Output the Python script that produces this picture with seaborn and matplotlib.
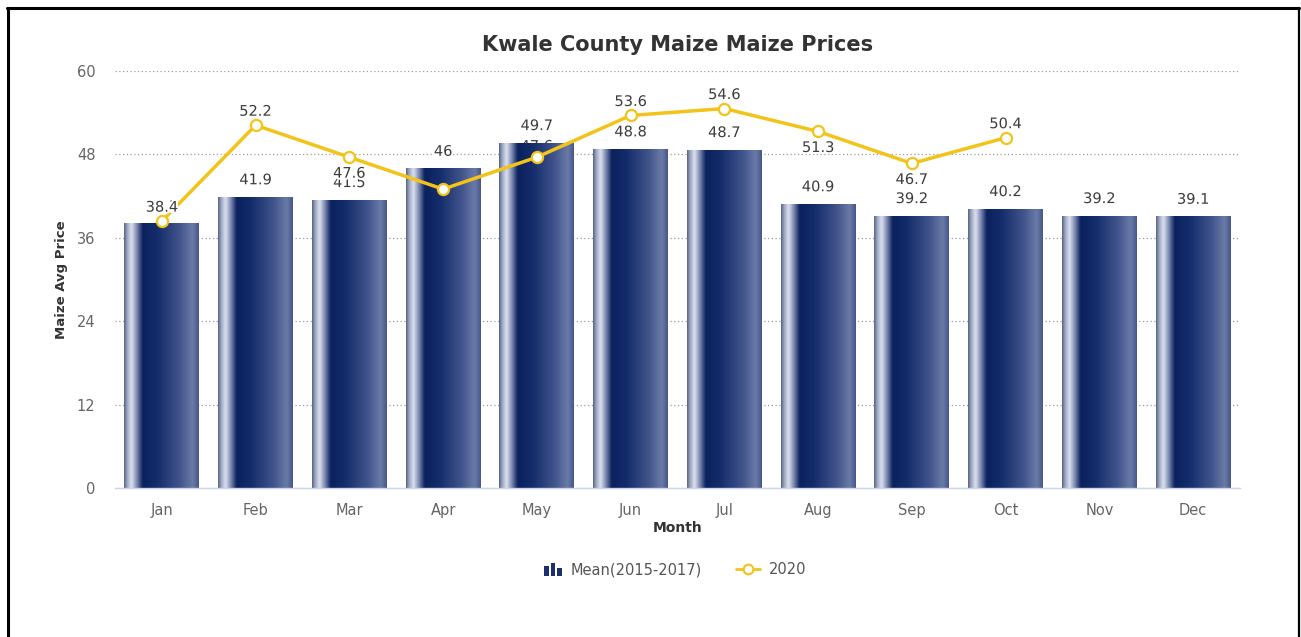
import numpy as np
import pandas as pd
import seaborn as sns
import matplotlib.pyplot as plt
import matplotlib.patheffects as pe
from matplotlib.colors import LinearSegmentedColormap
from matplotlib.legend_handler import HandlerBase
from matplotlib.patches import Rectangle
from matplotlib.lines import Line2D

# ---- data -------------------------------------------------------------
months = ["Jan", "Feb", "Mar", "Apr", "May", "Jun",
          "Jul", "Aug", "Sep", "Oct", "Nov", "Dec"]
mean_2015_2017 = [38.1, 41.9, 41.5, 46.0, 49.7, 48.8,
                  48.7, 40.9, 39.2, 40.2, 39.2, 39.1]
price_2020 = [38.4, 52.2, 47.6, 43.0, 47.6, 53.6, 54.6, 51.3, 46.7, 50.4]
y_ticks = [0, 12, 24, 36, 48, 60]

# where each 2020 value label sits relative to its point (None = hidden)
label_side_2020 = ["above", "above", "below", None, "under_bar",
                   "above", "above", "below", "below", "above"]

# ---- style ------------------------------------------------------------
sns.set_theme(style="white")
plt.rcParams["font.family"] = ["DejaVu Sans"]

NAVY = "#0d2463"
GOLD = "#f2c318"
TEXT = "#333333"
TICK = "#666666"

W, H = 1301, 637
fig = plt.figure(figsize=(W / 100, H / 100), dpi=100)
ax = fig.add_axes([115 / W, 1 - 488 / H, 1125 / W, 417 / H])

df = pd.DataFrame({"Month": months, "Price": mean_2015_2017})
sns.barplot(data=df, x="Month", y="Price", order=months, color=NAVY,
            saturation=1, width=0.8, ax=ax, zorder=2)

# cylinder-like horizontal gradient on every bar
grad_cmap = LinearSegmentedColormap.from_list("bar_shade", [
    (0.00, "#56627f"),
    (0.04, "#9aa5c2"),
    (0.10, "#dde2ef"),
    (0.17, "#7d8ab2"),
    (0.25, "#0a215d"),
    (0.45, "#142d6b"),
    (0.75, "#42558c"),
    (0.92, "#6b7ba8"),
    (1.00, "#46568a"),
])
grad = np.linspace(0, 1, 256).reshape(1, -1)
for bar in list(ax.patches):
    x0, y0 = bar.get_xy()
    w, h = bar.get_width(), bar.get_height()
    img = ax.imshow(grad, extent=[x0, x0 + w, y0, y0 + h], aspect="auto",
                    cmap=grad_cmap, origin="lower", interpolation="bicubic",
                    zorder=2)
    img.set_clip_path(bar)
    bar.set_facecolor("none")
    bar.set_edgecolor("none")

# 2020 line
pos_2020 = np.arange(len(price_2020))
sns.lineplot(x=pos_2020, y=price_2020, ax=ax, color=GOLD, linewidth=2.5,
             marker="o", markersize=8, markerfacecolor="white",
             markeredgecolor=GOLD, markeredgewidth=1.6, zorder=4)

ax.set_xlim(-0.5, len(months) - 0.5)
ax.set_ylim(0, 60)
ax.set_yticks(y_ticks)
ax.set_xticks(range(len(months)))
ax.set_xticklabels(months)

# value labels
halo = [pe.withStroke(linewidth=3, foreground="white")]
lab_kw = dict(textcoords="offset pixels", ha="center", va="center",
              fontsize=10.5, color="#3c3c3c", path_effects=halo)
for i, v in enumerate(mean_2015_2017):
    ax.annotate(f"{v:g}", (i, v), xytext=(0, 17), zorder=5, **lab_kw)
for i, (v, side) in enumerate(zip(price_2020, label_side_2020)):
    if side is None:
        continue
    dy = {"above": 14, "below": -16, "under_bar": 11}[side]
    z = 1.5 if side == "under_bar" else 5
    ax.annotate(f"{v:g}", (i, v), xytext=(0, dy), zorder=z, **lab_kw)

# axes styling
for s in ["top", "right", "left"]:
    ax.spines[s].set_visible(False)
ax.spines["bottom"].set_color("#ccd6eb")
ax.spines["bottom"].set_linewidth(1)
ax.grid(axis="y", color="#9a9a9a", linestyle=(0, (1, 2)), linewidth=0.9,
        zorder=0)
ax.grid(axis="x", visible=False)
ax.set_axisbelow(True)
ax.tick_params(axis="x", length=0, pad=11, labelsize=10.5, labelcolor=TICK)
ax.tick_params(axis="y", length=0, pad=14, labelsize=10.5, labelcolor=TICK)
ax.set_xlabel("")
ax.set_ylabel("")

fig.text(677.5 / W, 1 - 45 / H, "Kwale County Maize Maize Prices",
         ha="center", va="center", fontsize=15, fontweight="bold",
         color=TEXT)
fig.text(62 / W, 1 - 280 / H, "Maize Avg Price", rotation=90,
         ha="center", va="center", fontsize=9.5, fontweight="bold",
         color=TEXT)
fig.text(677.5 / W, 1 - 528 / H, "Month", ha="center", va="center",
         fontsize=10, fontweight="bold", color=TEXT)


# legend with a small column-chart icon for the bar series
class ColumnIcon(HandlerBase):
    def create_artists(self, legend, orig_handle, xdescent, ydescent,
                       width, height, fontsize, trans):
        bw = width * 0.2
        heights = [0.75, 1.0, 0.55]
        arts = []
        for k, hh in enumerate(heights):
            x = width * 0.25 + k * bw * 1.45 - xdescent
            r = Rectangle((x, -ydescent - 1), bw, height * 1.15 * hh + 1,
                          facecolor="#1b2f6e", edgecolor="none",
                          transform=trans)
            arts.append(r)
        return arts


bar_handle = Rectangle((0, 0), 1, 1, color="#1b2f6e")
line_handle = Line2D([], [], color=GOLD, linewidth=2, marker="o",
                     markersize=7, markerfacecolor="white",
                     markeredgecolor=GOLD, markeredgewidth=1.5)
leg = fig.legend([bar_handle, line_handle], ["Mean(2015-2017)", "2020"],
                 handler_map={Rectangle: ColumnIcon()},
                 loc="center", bbox_to_anchor=(672 / W, 1 - 570 / H),
                 ncol=2, frameon=False, fontsize=10.5, handlelength=1.6,
                 columnspacing=2.4, handletextpad=0.6)
for t in leg.get_texts():
    t.set_color("#555555")

# outer frame (left, top, right edges)
fig.add_artist(Line2D([7.5 / W, 7.5 / W], [0, 1 - 8 / H], color="black",
                      linewidth=2.2, transform=fig.transFigure))
fig.add_artist(Line2D([6.5 / W, 1298.5 / W], [1 - 8 / H, 1 - 8 / H],
                      color="black", linewidth=2.2,
                      transform=fig.transFigure))
fig.add_artist(Line2D([1298.5 / W, 1298.5 / W], [0, 1 - 8 / H],
                      color="black", linewidth=1.6,
                      transform=fig.transFigure))

fig.savefig("out.png", dpi=100)
